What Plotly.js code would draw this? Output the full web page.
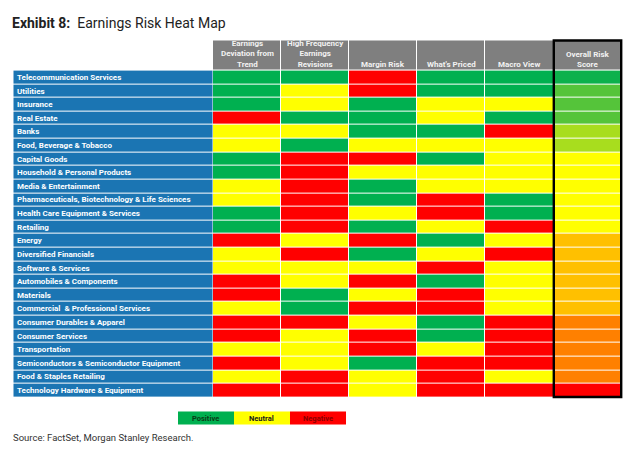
<!DOCTYPE html>
<html>
<head>
<meta charset="utf-8">
<script src="https://cdn.plot.ly/plotly-3.0.1.min.js"></script>
<style>html,body{margin:0;padding:0;background:#fff;}#chart{width:630px;height:453px;}</style>
</head>
<body>
<div id="chart"></div>
<script>
// ---------- DATA ----------
const sectors = [
  "Telecommunication Services",
  "Utilities",
  "Insurance",
  "Real Estate",
  "Banks",
  "Food, Beverage & Tobacco",
  "Capital Goods",
  "Household & Personal Products",
  "Media & Entertainment",
  "Pharmaceuticals, Biotechnology & Life Sciences",
  "Health Care Equipment & Services",
  "Retailing",
  "Energy",
  "Diversified Financials",
  "Software & Services",
  "Automobiles & Components",
  "Materials",
  "Commercial  & Professional Services",
  "Consumer Durables & Apparel",
  "Consumer Services",
  "Transportation",
  "Semiconductors & Semiconductor Equipment",
  "Food & Staples Retailing",
  "Technology Hardware & Equipment"
];
const factorNames = [
  "Earnings<br>Deviation from<br>Trend",
  "High Frequency<br>Earnings<br>Revisions",
  "Margin Risk",
  "What's Priced",
  "Macro View"
];
const overallName = "Overall Risk<br>Score";
// 1 = Positive, 0 = Neutral, -1 = Negative
const earningsDeviation = [1,1,1,-1,0,0,1,1,0,0,1,1,-1,0,0,-1,-1,0,-1,-1,0,-1,0,-1];
const hfRevisions       = [1,0,0,1,0,1,-1,-1,-1,-1,-1,-1,0,-1,0,0,1,1,-1,0,0,0,-1,-1];
const marginRisk        = [-1,-1,1,1,1,0,-1,0,1,1,0,1,-1,1,0,-1,0,-1,0,-1,-1,1,0,0];
const whatsPriced       = [1,1,0,0,1,0,1,0,0,-1,-1,0,1,0,-1,1,-1,-1,1,1,0,-1,-1,-1];
const macroView         = [1,1,0,1,-1,0,0,0,0,1,1,-1,0,-1,0,0,0,0,-1,-1,-1,-1,0,-1];
const overallScore      = [3,2,2,2,1,1,0,0,0,0,0,0,-1,-1,-1,-1,-1,-1,-2,-2,-2,-2,-2,-4];
const legendLabels = ["Positive", "Neutral", "Negative"];
const legendValues = [1, 0, -1];

// ---------- STYLE ----------
const GREEN = "#00b050", YELLOW = "#ffff00", RED = "#ff0000";
const BLUE = "#1b75b3", GRAY = "#7f7f7f";
const scoreLevels = [-4, -3, -2, -1, 0, 1, 2, 3];
const scoreColors = ["#ff0000", "#ff4000", "#ff8000", "#ffc000", "#ffff00", "#a8dd1e", "#55c43a", "#0cb14c"];

function discreteScale(levels, colors) {
  const lo = levels[0], hi = levels[levels.length - 1];
  const n = levels.length;
  const cs = [];
  for (let i = 0; i < n; i++) {
    const a = i / n, b = (i + 1) / n;
    cs.push([a, colors[i]]);
    cs.push([b, colors[i]]);
  }
  return {cs: cs, zmin: lo - 0.5, zmax: hi + 0.5};
}
const factorScale = discreteScale([-1, 0, 1], [RED, YELLOW, GREEN]);
const overallScale = discreteScale(scoreLevels, scoreColors);

// ---------- LAYOUT GEOMETRY ----------
const colEdges = [213, 281, 349, 417.3, 485.3, 553.5, 621];
const labelEdges = [13.5, 213];
const rowTop = 70.6, rowBottom = 397.4;
const nRows = sectors.length;
const rowH = (rowBottom - rowTop) / nRows;
const rowEdges = [];
for (let i = 0; i <= nRows; i++) rowEdges.push(rowTop + i * rowH);
const headerEdges = [40.5, 70.8];
const legendX = [178, 233.5, 289.5, 346];
const legendY = [411.5, 424.5];

const factorCols = [earningsDeviation, hfRevisions, marginRisk, whatsPriced, macroView];
const zFactors = sectors.map((s, r) => factorCols.map(c => c[r]));
const zOverall = overallScore.map(v => [v]);
const zLabels = sectors.map(() => [0]);

const common = {type: "heatmap", hoverinfo: "skip", showscale: false, xgap: 1, ygap: 1};

const traces = [
  Object.assign({}, common, {
    x: labelEdges, y: rowEdges, z: zLabels,
    colorscale: [[0, BLUE], [1, BLUE]], zmin: 0, zmax: 1
  }),
  Object.assign({}, common, {
    x: colEdges.slice(0, 6), y: rowEdges, z: zFactors,
    colorscale: factorScale.cs, zmin: factorScale.zmin, zmax: factorScale.zmax
  }),
  Object.assign({}, common, {
    x: colEdges.slice(5), y: rowEdges, z: zOverall,
    colorscale: overallScale.cs, zmin: overallScale.zmin, zmax: overallScale.zmax
  }),
  Object.assign({}, common, {
    x: colEdges, y: headerEdges, z: [factorNames.concat([overallName]).map(() => 0)],
    colorscale: [[0, GRAY], [1, GRAY]], zmin: 0, zmax: 1
  }),
  Object.assign({}, common, {
    x: legendX, y: legendY, z: [legendValues], xgap: 0, ygap: 0,
    colorscale: factorScale.cs, zmin: factorScale.zmin, zmax: factorScale.zmax
  })
];

const annotations = [];
sectors.forEach((s, i) => {
  annotations.push({
    x: 14.5, y: rowTop + (i + 0.5) * rowH, xref: "x", yref: "y",
    text: "<b>" + s.replace(/&/g, "&amp;") + "</b>", showarrow: false,
    xanchor: "left", yanchor: "middle",
    font: {family: "Roboto, Arial, sans-serif", size: 8, color: "#ffffff"}
  });
});
factorNames.concat([overallName]).forEach((h, i) => {
  annotations.push({
    x: (colEdges[i] + colEdges[i + 1]) / 2, y: 71.2, xref: "x", yref: "y",
    text: "<b>" + h + "</b>", showarrow: false,
    xanchor: "center", yanchor: "bottom",
    font: {family: "Roboto, Arial, sans-serif", size: 8, color: "#f2f2f2"}
  });
});
const legendTextColors = ["#0b3a16", "#1a1a1a", "#8a0000"];
legendLabels.forEach((l, i) => {
  annotations.push({
    x: (legendX[i] + legendX[i + 1]) / 2, y: (legendY[0] + legendY[1]) / 2, xref: "x", yref: "y",
    text: "<b>" + l + "</b>", showarrow: false, xanchor: "center", yanchor: "middle",
    font: {family: "Roboto, Arial, sans-serif", size: 7.5, color: legendTextColors[i]}
  });
});
annotations.push({
  x: 11, y: 437, xref: "x", yref: "y",
  text: "Source: FactSet, Morgan Stanley Research.", showarrow: false,
  xanchor: "left", yanchor: "middle",
  font: {family: "'Liberation Sans Narrow', Roboto, Arial, sans-serif", size: 9.5, color: "#333333"}
});

const layout = {
  width: 630, height: 453,
  margin: {l: 0, r: 0, t: 0, b: 0, pad: 0},
  paper_bgcolor: "#ffffff", plot_bgcolor: "#ffffff",
  showlegend: false,
  title: {
    text: "<b>Exhibit 8:</b>  Earnings Risk Heat Map",
    x: 12 / 630, xanchor: "left", xref: "paper",
    y: 1 - 23.5 / 453, yanchor: "middle", yref: "paper",
    font: {family: "'Liberation Sans Narrow', Roboto, Arial, sans-serif", size: 14, color: "#222222"}
  },
  xaxis: {range: [0, 630], visible: false, fixedrange: true},
  yaxis: {range: [453, 0], visible: false, fixedrange: true},
  shapes: [{
    type: "rect", xref: "x", yref: "y",
    x0: 553.8, x1: 621.2, y0: 40.5, y1: 397,
    line: {color: "#000000", width: 2.4}, fillcolor: "rgba(0,0,0,0)"
  }],
  annotations: annotations
};

Plotly.newPlot("chart", traces, layout, {staticPlot: true, displayModeBar: false});
</script>
</body>
</html>
